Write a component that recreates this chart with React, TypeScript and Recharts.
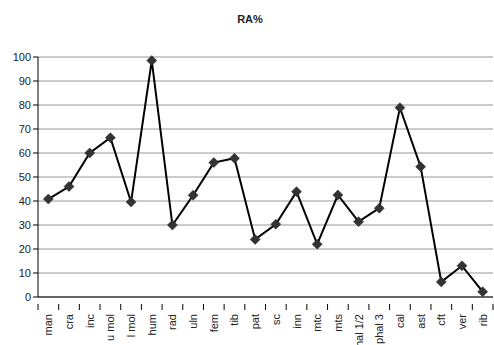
import React from "react";
import { LineChart, Line, XAxis, YAxis, CartesianGrid } from "recharts";

const categories = ["man", "cra", "inc", "u mol", "l mol", "hum", "rad", "uln", "fem", "tib", "pat", "sc", "inn", "mtc", "mts", "phal 1/2", "phal 3", "cal", "ast", "cft", "ver", "rib"];
const values = [40.8, 46, 60, 66.4, 39.6, 98.5, 30, 42.4, 56, 57.8, 24, 30.3, 43.9, 22, 42.5, 31.4, 37, 78.9, 54.3, 6.3, 13, 2.2];
const yTicks = [0, 10, 20, 30, 40, 50, 60, 70, 80, 90, 100];

const data = categories.map((c, i) => ({ name: c, x: i + 0.5, v: values[i] }));
const xTicks: number[] = [];
for (let i = 0; i <= categories.length * 2; i++) xTicks.push(i / 2);

const FONT = "'Liberation Sans', Arial, sans-serif";

const XTick = (props: any) => {
  const { x, y, payload } = props;
  const val = payload.value as number;
  if (Number.isInteger(val)) {
    return <line x1={x} y1={y - 1} x2={x} y2={y + 5} stroke="#000" strokeWidth={1} />;
  }
  const idx = Math.floor(val);
  return (
    <text x={x + 4} y={y + 9} transform={`rotate(-90, ${x + 4}, ${y + 9})`} textAnchor="end" fontSize={11} fontFamily={FONT} fill="#222">
      {categories[idx]}
    </text>
  );
};

const Diamond = (props: any) => {
  const { cx, cy } = props;
  const r = 5;
  return <polygon points={`${cx},${cy - r} ${cx + r},${cy} ${cx},${cy + r} ${cx - r},${cy}`} fill="#333" stroke="#222" strokeWidth={0.5} />;
};

export default function App() {
  return (
    <div style={{ position: "absolute", left: 0, top: 0, width: 494, height: 345, background: "#fff" }}>
      <div style={{ position: "absolute", left: 0, top: 13, width: 500, textAlign: "center", fontFamily: FONT, fontWeight: "bold", fontSize: 11, color: "#222" }}>RA%</div>
      <LineChart width={494} height={345} data={data} margin={{ top: 57, right: 1, bottom: 0, left: 0 }}>
        <CartesianGrid vertical={false} stroke="#999" strokeWidth={1} />
        <XAxis dataKey="x" type="number" domain={[0, categories.length]} ticks={xTicks} interval={0} height={48} tick={<XTick />} tickLine={false} axisLine={{ stroke: "#000", strokeWidth: 1 }} allowDecimals />
        <YAxis domain={[0, 100]} ticks={yTicks} width={38} interval={0} tickSize={5} tickLine={{ stroke: "#000" }} axisLine={{ stroke: "#000", strokeWidth: 1 }} tick={{ fontSize: 11, fontFamily: FONT, fill: "#222" }} tickMargin={2} />
        <Line dataKey="v" stroke="#000" strokeWidth={2} dot={<Diamond />} isAnimationActive={false} />
      </LineChart>
    </div>
  );
}
